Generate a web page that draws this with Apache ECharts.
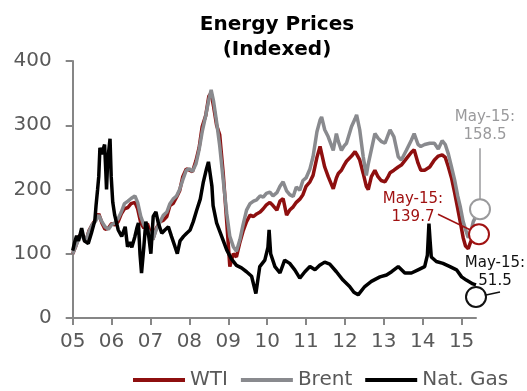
<!DOCTYPE html>
<html>
<head>
<meta charset="utf-8">
<script src="https://cdn.jsdelivr.net/npm/echarts@6/dist/echarts.min.js"></script>
<style>
	html, body { margin: 0; padding: 0; background: #fff; }
	#chart { width: 527px; height: 391px; }
</style>
</head>
<body>
<div id="chart"></div>
<script>
	// x values are decimal years (2005.00 = Jan 2005)
	var oilYears = [2005,2005.08,2005.17,2005.25,2005.33,2005.42,2005.5,2005.58,2005.67,2005.75,2005.83,2005.92,
		2006,2006.08,2006.17,2006.25,2006.33,2006.42,2006.5,2006.6,2006.67,2006.75,2006.83,2006.92,
		2007,2007.06,2007.15,2007.25,2007.33,2007.42,2007.5,2007.58,2007.67,2007.75,2007.83,2007.92,
		2008,2008.08,2008.17,2008.25,2008.33,2008.42,2008.5,2008.56,2008.62,2008.7,2008.78,2008.87,2008.96,
		2009.04,2009.13,2009.21,2009.3,2009.38,2009.47,2009.56,2009.65,2009.73,2009.82,2009.9,2009.98,
		2010.07,2010.15,2010.25,2010.33,2010.41,2010.5,2010.58,2010.67,2010.75,2010.84,2010.92,
		2011,2011.1,2011.18,2011.28,2011.36,2011.4,2011.48,2011.57,2011.7,2011.78,2011.83,2011.91,2011.98,
		2012.04,2012.17,2012.26,2012.3,2012.38,2012.47,2012.55,2012.6,2012.68,2012.77,2012.85,2012.93,
		2013.03,2013.11,2013.16,2013.26,2013.37,2013.45,2013.58,2013.71,2013.78,2013.88,2013.95,
		2014.05,2014.18,2014.3,2014.4,2014.5,2014.58,2014.66,2014.74,2014.82,2014.9,2014.97,
		2015.04,2015.1,2015.17,2015.23,2015.3,2015.37];
	var brentValues = [100,112,125,128,120,135,145,150,160,150,142,138,
		145,148,155,165,178,182,186,190,180,158,145,138,
		130,122,138,150,160,165,178,185,190,200,215,230,
		232,228,240,262,290,315,340,355,338,305,268,215,163,
		127,111,104,122,145,168,178,182,184,190,188,194,
		196,190,195,205,212,198,192,189,204,199,214,
		218,232,251,290,308,313,293,282,261,287,275,261,268,
		272,298,310,316,293,251,222,240,262,287,280,275,
		272,285,293,282,251,246,261,277,287,270,267,
		270,272,272,263,276,270,255,235,215,190,172,
		150,138,125,132,150,158.5];
	var wtiValues = [100,112,128,130,118,136,145,152,162,148,138,140,
		147,145,150,162,170,172,178,180,170,148,140,147,
		132,122,140,150,152,158,175,178,188,198,220,232,
		230,228,245,265,298,315,345,350,330,300,285,225,150,
		80,100,95,118,135,150,160,158,162,165,170,176,
		180,175,168,182,186,160,168,173,180,185,192,
		205,212,222,250,267,270,235,220,201,218,225,230,238,
		244,252,259,255,246,225,205,200,220,230,220,214,
		212,220,226,230,235,238,248,258,262,241,230,
		230,235,246,252,254,250,235,218,195,170,148,
		125,112,108,118,128,139.7];
	var gasYears = [2005,2005.05,2005.1,2005.15,2005.23,2005.3,2005.4,2005.48,2005.57,2005.6,2005.64,2005.67,2005.7,2005.74,2005.78,2005.82,2005.85,2005.87,2005.9,2005.93,2005.96,2005.99,
		2006.03,2006.08,2006.12,2006.17,2006.26,2006.35,2006.41,2006.47,2006.52,2006.6,2006.65,2006.69,2006.73,2006.77,2006.83,2006.88,2006.92,2006.96,
		2007.01,2007.07,2007.14,2007.2,2007.29,2007.37,2007.46,2007.54,2007.63,2007.69,2007.76,2007.85,2007.93,
		2008.02,2008.1,2008.19,2008.28,2008.36,2008.44,2008.49,2008.53,2008.58,2008.61,2008.7,2008.83,2008.96,
		2009.08,2009.21,2009.34,2009.47,2009.6,2009.71,2009.81,2009.94,
		2010.02,2010.05,2010.09,2010.2,2010.33,2010.45,2010.58,2010.71,2010.84,2010.97,
		2011.1,2011.23,2011.35,2011.48,2011.61,2011.78,2011.95,
		2012.12,2012.23,2012.34,2012.51,2012.68,2012.9,
		2013.07,2013.2,2013.37,2013.54,2013.71,2013.88,
		2014.05,2014.12,2014.16,2014.19,2014.22,2014.35,2014.52,2014.7,2014.87,
		2015,2015.12,2015.29,2015.37];
	var gasValues = [105,118,128,120,140,120,116,132,152,175,200,220,265,255,262,270,230,200,245,262,279,220,
		180,160,150,137,127,142,111,118,110,127,140,148,100,70,111,150,140,125,
		100,158,165,148,132,137,142,127,111,100,120,127,132,
		137,150,168,185,212,232,243,240,205,175,148,127,106,
		92,82,78,72,65,38,80,90,
		110,137,100,80,70,90,85,75,62,72,
		80,75,82,87,84,72,59,
		49,40,36,49,57,64,
		67,72,80,70,70,75,
		80,98,147,120,95,88,85,80,75,
		64,59,53,51.5];
	var tickYears = [2005,2006,2007,2008,2009,2010,2011,2012,2013,2014,2015];
	var lastLabel = 'May-15:';

	function pairs(xs, ys) {
		var out = [];
		for (var i = 0; i < xs.length; i++) {
			out.push([xs[i], ys[i]]);
		}
		return out;
	}

	var fontName = 'DejaVu Sans';
	var labelColor = '#595959';
	var axisColor = '#868686';
	var wtiColor = '#8e0f0f';
	var brentColor = '#898a8e';
	var gasColor = '#000000';

	var myChart = echarts.init(document.getElementById('chart'));
	var option = {
		animation: false,
		title: {
			text: 'Energy Prices\n(Indexed)',
			left: 272,
			top: 7,
			textAlign: 'center',
			textStyle: {
				fontFamily: fontName,
				fontWeight: 'bold',
				fontSize: 20,
				lineHeight: 25,
				color: '#000'
			}
		},
		legend: {
			left: 133,
			top: 370,
			padding: 0,
			itemGap: 13,
			itemWidth: 52,
			itemHeight: 4,
			icon: 'rect',
			data: ['WTI', 'Brent', 'Nat. Gas'],
			textStyle: {
				fontFamily: fontName,
				fontSize: 20,
				color: labelColor
			}
		},
		grid: {
			left: 72.7,
			right: 51,
			top: 61,
			bottom: 73
		},
		xAxis: {
			type: 'value',
			min: 2005,
			max: 2015.37,
			interval: 1,
			splitLine: { show: false },
			axisLine: { lineStyle: { color: axisColor, width: 2 } },
			axisTick: {
				inside: false,
				length: 7,
				customValues: tickYears,
				lineStyle: { color: axisColor, width: 2 }
			},
			axisLabel: {
				customValues: tickYears,
				margin: 14,
				fontFamily: fontName,
				fontSize: 20,
				color: labelColor,
				formatter: function(v) { return String(v).slice(2); }
			}
		},
		yAxis: {
			type: 'value',
			min: 0,
			max: 400,
			interval: 100,
			splitLine: { show: false },
			axisLine: { show: true, lineStyle: { color: axisColor, width: 2 } },
			axisTick: { show: true, length: 7, lineStyle: { color: axisColor, width: 2 } },
			axisLabel: {
				margin: 21,
				fontFamily: fontName,
				fontSize: 20,
				color: labelColor
			}
		},
		series: [{
			name: 'WTI',
			type: 'line',
			symbol: 'none',
			color: wtiColor,
			lineStyle: { width: 3.5 },
			data: pairs(oilYears, wtiValues)
		}, {
			name: 'Brent',
			type: 'line',
			symbol: 'none',
			color: brentColor,
			lineStyle: { width: 3.5 },
			data: pairs(oilYears, brentValues)
		}, {
			name: 'Nat. Gas',
			type: 'line',
			symbol: 'none',
			color: gasColor,
			lineStyle: { width: 3.5 },
			data: pairs(gasYears, gasValues)
		}]
	};
	myChart.setOption(option);

	// call-out labels hang off the last point of each series
	var lastX = oilYears[oilYears.length - 1];
	var pB = myChart.convertToPixel({ gridIndex: 0 }, [lastX, brentValues[brentValues.length - 1]]);
	var pW = myChart.convertToPixel({ gridIndex: 0 }, [lastX, wtiValues[wtiValues.length - 1]]);
	var pG = myChart.convertToPixel({ gridIndex: 0 }, [gasYears[gasYears.length - 1], gasValues[gasValues.length - 1]]);

	function callout(color, text, tx, ty, line, cx, cy) {
		return [{
			type: 'line',
			shape: { x1: line[0], y1: line[1], x2: line[2], y2: line[3] },
			style: { stroke: color, lineWidth: 1.5 },
			z: 10
		}, {
			type: 'circle',
			shape: { cx: cx, cy: cy, r: 10 },
			style: { fill: '#fff', stroke: color, lineWidth: 2 },
			z: 11
		}, {
			type: 'text',
			x: tx,
			y: ty,
			style: {
				text: text,
				fill: color,
				font: '15px "' + fontName + '"',
				textAlign: 'center',
				textVerticalAlign: 'top',
				lineHeight: 18
			},
			z: 12
		}];
	}

	var graphics = []
		.concat(callout('#9a9a9c', lastLabel + '\n' + brentValues[brentValues.length - 1], pB[0] + 9, pB[1] - 108,
			[pB[0] + 4, pB[1] - 68, pB[0] + 4, pB[1] - 17], pB[0] + 4, pB[1] - 7))
		.concat(callout('#a01212', lastLabel + '\n' + wtiValues[wtiValues.length - 1], pW[0] - 63, pW[1] - 38,
			[pW[0] - 38, pW[1] - 14, pW[0] - 5, pW[1] + 2], pW[0] + 3, pW[1] + 6))
		.concat(callout('#111', lastLabel + '\n' + gasValues[gasValues.length - 1], pG[0] + 19, pG[1] - 31,
			[pG[0] + 10, pG[1] + 10, pG[0] + 24, pG[1] + 7], pG[0], pG[1] + 12));
	myChart.setOption({ graphic: graphics });
</script>
</body>
</html>
